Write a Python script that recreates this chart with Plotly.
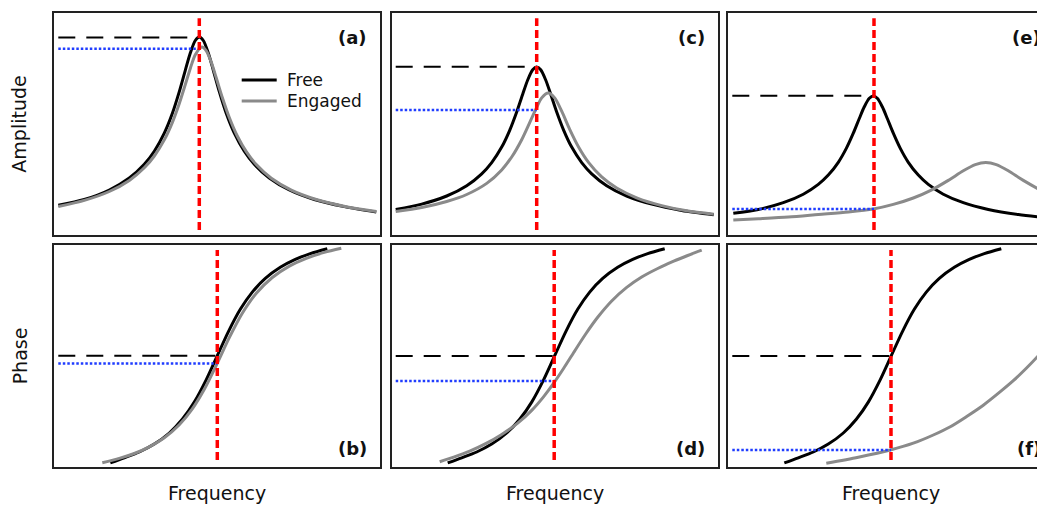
import plotly.graph_objects as go

# ---------------- data (arbitrary units: frequency across panel, amplitude/phase up from panel bottom) -------------
# (a) amplitude, small stiffness change
A_FREE_X = [4, 30, 55, 75, 90, 100, 110, 118, 125, 131, 136, 141, 145, 149, 154, 159, 165, 172, 180, 190, 200, 215, 235, 260, 290, 322]
A_FREE_Y = [29.8, 35.5, 45.0, 57.0, 70.7, 83.8, 101.9, 121.5, 143.4, 164.7, 182.0, 194.5, 198.0, 194.5, 182.0, 164.7, 143.4, 121.5, 101.9, 83.8, 70.7, 57.0, 45.0, 35.5, 28.4, 23.0]
A_ENG_X = [4, 30, 55, 75, 90, 100, 110, 118, 125, 131, 136, 141, 147.5, 152, 157, 162, 168, 175, 183, 192, 202, 217, 237, 262, 292, 322]
A_ENG_Y = [28.5, 34.6, 43.5, 54.6, 67.2, 79.0, 95.1, 112.4, 131.5, 150.4, 166.6, 180.3, 188.0, 184.2, 172.6, 157.0, 137.5, 117.5, 99.0, 83.3, 70.4, 56.7, 44.9, 35.5, 28.3, 23.5]

# (c) amplitude, medium change
C_FREE_X = [4, 30, 55, 75, 90, 100, 110, 118, 125, 131, 136, 141, 145, 149, 154, 159, 165, 172, 180, 190, 200, 215, 235, 260, 290, 322]
C_FREE_Y = [25.6, 30.9, 39.0, 49.3, 61.2, 72.4, 87.9, 104.7, 123.0, 140.8, 155.0, 165.2, 168.0, 165.2, 155.0, 140.8, 123.0, 104.7, 87.9, 72.4, 61.2, 49.3, 39.0, 30.9, 24.6, 20.3]
C_ENG_X = [4, 30, 55, 75, 95, 110, 120, 130, 138, 145, 150, 156.5, 163, 170, 178, 187, 197, 210, 225, 245, 270, 295, 322]
C_ENG_Y = [23.5, 27.5, 33.5, 40.5, 51.6, 65.1, 78.0, 95.3, 112.4, 127.6, 137.1, 142.0, 137.1, 123.8, 105.7, 87.8, 72.4, 58.1, 47.0, 37.2, 29.4, 24.2, 20.8]

# (e) amplitude, large change
E_FREE_X = [5, 30, 55, 75, 90, 100, 110, 118, 125, 131, 136, 141, 145, 149, 154, 159, 165, 172, 180, 190, 200, 215, 235, 260, 290, 322]
E_FREE_Y = [21.7, 25.5, 32.3, 40.8, 50.6, 59.9, 72.7, 86.6, 101.8, 116.5, 128.2, 136.7, 139.0, 136.7, 128.2, 116.5, 101.8, 86.6, 72.7, 59.9, 50.6, 40.8, 32.3, 25.5, 20.4, 16.8]
E_ENG_X = [5, 30, 60, 90, 120, 145, 165, 185, 203, 220, 235, 247, 257.5, 268, 280, 295, 317, 327]
E_ENG_Y = [15.0, 16.3, 18.0, 20.5, 23.0, 26.0, 30.6, 37.0, 44.9, 54.6, 64.2, 70.4, 72.5, 70.4, 64.2, 54.6, 42.5, 38.1]

# phase, free resonator (same in b, d, f)
PH_FREE_X = [56, 70, 85, 100, 115, 128, 140, 152, 163, 174, 186, 198, 211, 226, 241, 256, 273]
PH_FREE_Y = [3.8, 8.9, 14.7, 22.6, 33.7, 47.4, 64.6, 87.1, 111.0, 134.9, 157.4, 174.6, 188.3, 199.4, 207.3, 213.1, 218.0]
# phase, engaged
B_ENG_X = [48, 65, 80, 95, 110, 125, 138, 150, 163, 175, 188, 202, 218, 235, 252, 270, 287]
B_ENG_Y = [4.0, 8.3, 13.2, 19.9, 28.9, 41.9, 57.8, 77.4, 103.5, 129.0, 153.4, 173.4, 189.2, 200.6, 208.4, 214.3, 218.4]
D_ENG_X = [48, 62, 78, 94, 110, 126, 140, 152, 162, 172, 182, 194, 206, 220, 235, 250, 266, 282, 296, 310]
D_ENG_Y = [5.0, 9.5, 15.5, 23.0, 32.3, 43.5, 56.3, 70.1, 83.5, 98.4, 114.2, 132.7, 149.4, 165.7, 179.3, 189.7, 198.2, 205.5, 211.2, 216.5]
F_ENG_X = [98, 130, 162, 185, 205, 222, 238, 255, 272, 285, 298, 310, 317, 330]
F_ENG_Y = [3.4, 9.5, 16.7, 23.5, 31.7, 40.0, 50.0, 61.5, 75.0, 86.0, 98.4, 111.0, 119.0, 132.0]

# reference markers per panel: (a, c, e, b, d, f)
PANEL_LABELS = ["(a)", "(c)", "(e)", "(b)", "(d)", "(f)"]
FREE_LEVEL = [197.5, 168.3, 139.3, 111.0, 110.7, 110.7]     # black dashed
ENG_LEVEL = [186.3, 125.0, 26.0, 103.3, 85.7, 16.7]         # blue dotted
DRIVE_FREQ = [145.0, 145.0, 145.7, 163.0, 162.5, 162.7]     # red dashed
LEVEL_START = 4.0
DRIVE_SPAN = [[5.0, 216.7], [5.0, 216.7], [5.0, 216.7], [6.7, 216.7], [6.7, 216.7], [6.7, 216.7]]

ROW_TITLES = ["Amplitude", "Phase"]
X_TITLE = "Frequency"
LEGEND_NAMES = ["Free", "Engaged"]

CURVES = [
    (A_FREE_X, A_FREE_Y, A_ENG_X, A_ENG_Y),
    (C_FREE_X, C_FREE_Y, C_ENG_X, C_ENG_Y),
    (E_FREE_X, E_FREE_Y, E_ENG_X, E_ENG_Y),
    (PH_FREE_X, PH_FREE_Y, B_ENG_X, B_ENG_Y),
    (PH_FREE_X, PH_FREE_Y, D_ENG_X, D_ENG_Y),
    (PH_FREE_X, PH_FREE_Y, F_ENG_X, F_ENG_Y),
]

# ---------------- layout geometry (pixels of the 1045x506 view) ----------------
VIEW_W, VIEW_H = 1045, 506
OFF = 8                       # default page body margin
W, H = VIEW_W - OFF, VIEW_H - OFF
COL_LEFT = [54.3, 391.7, 728.3]
PANEL_W = 326.0
ROW_TOP = [13.3, 245.0]
PANEL_H = 221.7

FONT = "DejaVu Sans"
FRAME = "#222222"
BLACK = "#000000"
GRAY = "#8a8a8a"
RED = "#ff0000"
BLUE = "#1f3cff"


def px(x):
    return (x - OFF) / W


def py(y):
    return 1 - (y - OFF) / H


fig = go.Figure()
layout = dict(
    width=W, height=H,
    margin=dict(l=0, r=0, t=0, b=0),
    paper_bgcolor="white", plot_bgcolor="white",
    showlegend=False,
    font=dict(family=FONT, color="#000"),
)

annotations = []
shapes = []

for p in range(6):
    row, col = divmod(p, 3)
    n = p + 1
    xa = "xaxis" if n == 1 else f"xaxis{n}"
    ya = "yaxis" if n == 1 else f"yaxis{n}"
    xr = "x" if n == 1 else f"x{n}"
    yr = "y" if n == 1 else f"y{n}"
    left = COL_LEFT[col]
    right = min(left + PANEL_W, VIEW_W)
    top = ROW_TOP[row]
    bottom = top + PANEL_H
    xmax = right - left
    common = dict(showgrid=False, zeroline=False, showticklabels=False, ticks="",
                  showline=True, linecolor=FRAME, linewidth=1.6, fixedrange=True)
    layout[xa] = dict(domain=[px(left), min(px(right), 1.0)], range=[0, xmax], anchor=yr,
                      mirror=True, **common)
    layout[ya] = dict(domain=[py(bottom), py(top)], range=[0, PANEL_H], anchor=xr,
                      mirror=(col < 2), **common)

    fx, fy, ex, ey = CURVES[p]
    fig.add_trace(go.Scatter(x=fx, y=fy, mode="lines", xaxis=xr, yaxis=yr,
                             line=dict(color=BLACK, width=3, shape="spline", smoothing=0.8),
                             hoverinfo="skip", name=LEGEND_NAMES[0]))
    fig.add_trace(go.Scatter(x=ex, y=ey, mode="lines", xaxis=xr, yaxis=yr,
                             line=dict(color=GRAY, width=3, shape="spline", smoothing=0.8),
                             hoverinfo="skip", name=LEGEND_NAMES[1]))
    # reference lines
    fig.add_trace(go.Scatter(x=[LEVEL_START, DRIVE_FREQ[p]], y=[FREE_LEVEL[p], FREE_LEVEL[p]],
                             mode="lines", xaxis=xr, yaxis=yr, hoverinfo="skip",
                             line=dict(color=BLACK, width=2, dash="17px,11px")))
    fig.add_trace(go.Scatter(x=[LEVEL_START, DRIVE_FREQ[p]], y=[ENG_LEVEL[p], ENG_LEVEL[p]],
                             mode="lines", xaxis=xr, yaxis=yr, hoverinfo="skip",
                             line=dict(color=BLUE, width=2.5, dash="2.5px,2px")))
    fig.add_trace(go.Scatter(x=[DRIVE_FREQ[p], DRIVE_FREQ[p]], y=DRIVE_SPAN[p],
                             mode="lines", xaxis=xr, yaxis=yr, hoverinfo="skip",
                             line=dict(color=RED, width=3.5, dash="8px,4px")))

    # panel label
    ly = top + 24 if row == 0 else bottom - 18
    annotations.append(dict(text=f"<b>{PANEL_LABELS[p]}</b>", xref="paper", yref="paper",
                            x=px(left + PANEL_W - 11), y=py(ly), xanchor="right", yanchor="middle",
                            showarrow=False, font=dict(family=FONT, size=18, color="#111")))

# row titles
for r in range(2):
    annotations.append(dict(text=ROW_TITLES[r], xref="paper", yref="paper",
                            x=px(19.5), y=py(ROW_TOP[r] + PANEL_H / 2), textangle=-90,
                            xanchor="center", yanchor="middle", showarrow=False,
                            font=dict(family=FONT, size=19, color="#111")))
# column titles
for c in range(3):
    annotations.append(dict(text=X_TITLE, xref="paper", yref="paper",
                            x=px(COL_LEFT[c] + PANEL_W / 2), y=py(493), xanchor="center",
                            yanchor="middle", showarrow=False,
                            font=dict(family=FONT, size=19, color="#111")))

# legend inside panel (a)
for i, (name, colr) in enumerate(zip(LEGEND_NAMES, [BLACK, GRAY])):
    yy = 80 + 21 * i
    shapes.append(dict(type="line", xref="paper", yref="paper",
                       x0=px(241.7), x1=px(276.7), y0=py(yy), y1=py(yy),
                       line=dict(color=colr, width=3)))
    annotations.append(dict(text=name, xref="paper", yref="paper", x=px(285), y=py(yy),
                            xanchor="left", yanchor="middle", showarrow=False,
                            font=dict(family=FONT, size=17, color="#111")))

layout["annotations"] = annotations
layout["shapes"] = shapes
fig.update_layout(**layout)
fig.write_html("out.html")
